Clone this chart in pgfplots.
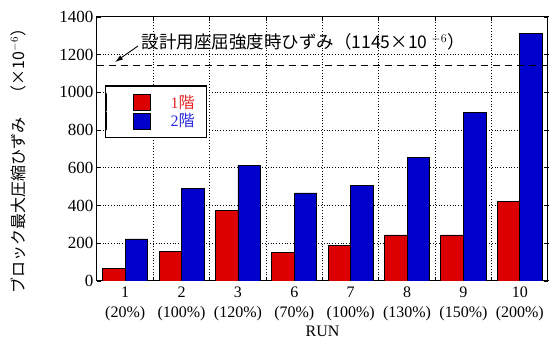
\documentclass[border=0pt]{standalone}
\usepackage{pgfplots}
\pgfplotsset{compat=1.18}
\usetikzlibrary{arrows.meta}
\usepackage{fontspec}
\setmainfont{Liberation Serif}
\newfontfamily\jp{Noto Sans CJK JP}
\definecolor{barred}{RGB}{221,0,0}
\definecolor{barblue}{RGB}{0,0,204}
\definecolor{txtred}{RGB}{225,40,40}
\definecolor{txtblue}{RGB}{40,40,225}
\begin{document}
\begin{tikzpicture}
\path[use as bounding box] (-97pt,-61pt) rectangle (457pt,281pt);
\begin{axis}[
  at={(0,0)}, anchor=south west,
  scale only axis, width=451pt, height=264pt,
  xmin=-0.5, xmax=7.5, ymin=0, ymax=1400,
  axis line style={line width=1pt},
  /pgf/number format/assume math mode=true,
  ytick={0,200,...,1400},
  yticklabel style={font=\fontsize{17}{19}\selectfont, /pgf/number format/1000 sep={}},
  xmajorgrids=true, ymajorgrids=true,
  grid style={line width=1pt, black, dash pattern=on 1pt off 1.8pt},
  major tick style={line width=0.8pt, black},
  xtick={0.5,1.5,...,6.5},
  xticklabels={},
  extra x ticks={0,...,7},
  extra x tick labels={{1\\(20\%)},{2\\(100\%)},{3\\(120\%)},{6\\(70\%)},{7\\(100\%)},{8\\(130\%)},{9\\(150\%)},{10\\(200\%)}},
  extra x tick style={grid=none, major tick length=0pt,
    xticklabel style={align=center, font=\fontsize{16}{20}\selectfont, yshift=-2pt}},
  tick align=inside,
  xlabel={RUN},
  xlabel style={font=\fontsize{16}{18}\selectfont, yshift=1pt},
  ylabel={\jp ブロック最大圧縮ひずみ　（×10$^{-6}$）},
  ylabel style={font=\fontsize{16}{18}\selectfont, at={(axis description cs:-0.175,0.47)}, anchor=center},
  legend style={at={(0.0177,0.742)}, anchor=north west, draw=black, line width=1.5pt,
    inner xsep=0pt, inner ysep=7pt, row sep=0pt, cells={anchor=west},
    font=\fontsize{16}{18}\selectfont},
  legend image code/.code={\path (0pt,-9pt) rectangle (0pt,9pt); \fill[#1] (27pt,-8pt) rectangle (44pt,8pt);},
]
\addplot[ybar, bar width=0.4, bar shift=-0.2, fill=barred, draw=black, line width=0.8pt]
  coordinates {(0,67) (1,155) (2,376) (3,152) (4,187) (5,244) (6,244) (7,420)};
\addlegendentry{\rule{18pt}{0pt}\textcolor{txtred}{1{\jp 階}}\rule{10pt}{0pt}}
\addplot[ybar, bar width=0.4, bar shift=0.2, fill=barblue, draw=black, line width=0.8pt]
  coordinates {(0,223) (1,493) (2,615) (3,467) (4,509) (5,657) (6,895) (7,1312)};
\addlegendentry{\rule{18pt}{0pt}\textcolor{txtblue}{2{\jp 階}}\rule{10pt}{0pt}}
\draw[line width=0.9pt, dash pattern=on 7pt off 5pt] (axis cs:-0.5,1145) -- (axis cs:7.5,1145);
\node[anchor=west, font=\fontsize{17.5}{19}\selectfont, inner sep=0pt] at (axis cs:0.29,1267) {\jp 設計用座屈強度時ひずみ（1145×10 $^{-6}$）};
\draw[-{Latex[length=8pt,width=5pt]}, line width=0.9pt] (axis cs:0.227,1246) -- (axis cs:-0.181,1161);
\end{axis}
\end{tikzpicture}
\end{document}
